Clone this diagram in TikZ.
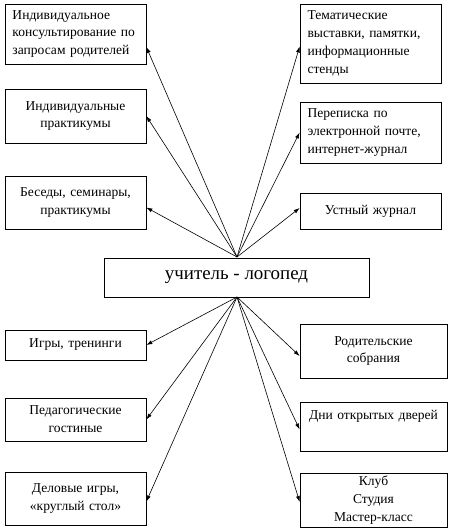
\documentclass[tikz,border=0pt]{standalone}
\usepackage{fontspec}
\setmainfont{Liberation Serif}
\usetikzlibrary{arrows.meta}
\tikzset{
  form/.style={
    minimum width=141bp,
    text width=126bp,
    inner sep=0pt,
    align=center,
    draw=black,
    line width=0.7bp,
    font=\fontsize{13.6}{18}\selectfont
  },
  wideform/.style={
    form,
    minimum width=147bp,
    text width=139bp
  },
  teacher/.style={
    minimum width=265bp,
    minimum height=39bp,
    inner sep=0pt,
    draw=black,
    line width=0.7bp,
    font=\fontsize{19}{22}\selectfont
  },
  arrow/.style={draw,line width=0.6bp,-{Latex[length=6bp,width=4bp]}}
}
\begin{document}
\begin{tikzpicture}[x=1bp, y=-1bp, every edge/.style={arrow}]
      \useasboundingbox (0,0) rectangle (450,530);
      \node (c) [teacher] at (236.5,277.5) {учитель - логопед};
      \coordinate (top) at (237,257);
      \coordinate (bot) at (237,297);
      % left column
      \node (l1) [form, minimum height=60bp, align=left] at (75.5,34) {Индивидуальное консультирование по запросам родителей};
      \node (l2) [form, minimum height=54bp] at (75.5,116) {Индивидуальные\\практикумы};
      \node (l3) [form, minimum height=53bp] at (75.5,202.5) {Беседы, семинары,\\практикумы};
      \node (l4) [form, minimum height=30bp] at (75.5,345) {Игры, тренинги};
      \node (l5) [form, minimum height=43bp] at (75.5,419.5) {Педагогические\\гостиные};
      \node (l6) [form, minimum height=53bp] at (75.5,498.5) {Деловые игры,\\«круглый стол»};
      % right column
      \node (r1) [form, minimum height=79bp, align=left] at (370.5,43.5) {Тематические\\выставки, памятки,\\информационные\\стенды};
      \node (r2) [form, minimum height=61bp, align=left] at (370.5,132.5) {Переписка по\\электронной почте,\\интернет-журнал};
      \node (r3) [form, minimum height=36bp] at (370.5,211) {Устный журнал};
      \node (r4) [wideform, minimum height=54bp] at (373.5,351) {Родительские\\собрания};
      \node (r5) [wideform, minimum height=49bp] at (373.5,426.5) {Дни открытых дверей\\ \strut};
      \node (r6) [wideform, minimum height=54bp] at (373.5,500) {Клуб\\Студия\\Мастер-класс};
      \path
      (top) edge ([yshift=-13bp]l1.east)
      (top) edge (l2.east)
      (top) edge ([yshift=-5bp]l3.east)
      (top) edge ([yshift=-3bp]r1.west)
      (top) edge (r2.west)
      (top) edge ([yshift=3bp]r3.west)
      (bot) edge (l4.east)
      (bot) edge (l5.east)
      (bot) edge ([yshift=-3bp]l6.east)
      (bot) edge ([yshift=-5bp]r4.west)
      (bot) edge ([yshift=-3bp]r5.west)
      (bot) edge ([yshift=-2bp]r6.west)
      ;
  \end{tikzpicture}
\end{document}
